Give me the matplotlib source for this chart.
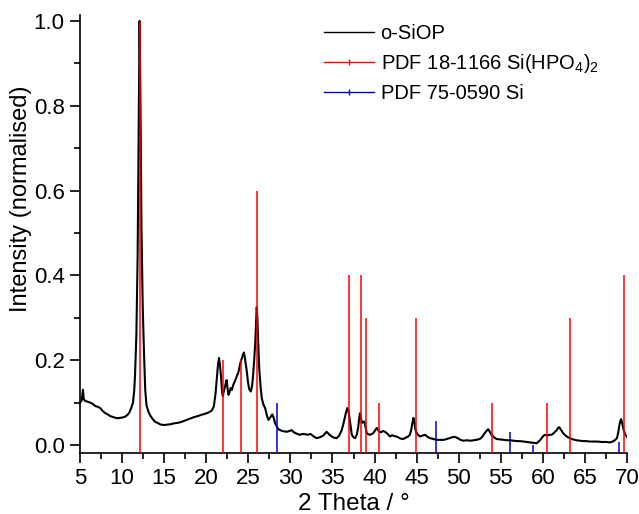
import matplotlib
matplotlib.use("Agg")
import matplotlib.pyplot as plt
from matplotlib.lines import Line2D
from matplotlib.ticker import MultipleLocator

plt.rcParams['font.family'] = ['Liberation Sans', 'DejaVu Sans']
plt.rcParams['mathtext.fontset'] = 'custom'
plt.rcParams['mathtext.rm'] = 'Liberation Sans'
plt.rcParams['mathtext.it'] = 'Liberation Sans:italic'

# ---- data ----
two_theta = [5.0, 5.2, 5.35, 5.45, 5.6, 5.9, 6.2, 6.5, 6.8, 7.1, 7.4, 7.7, 8.0, 8.3, 8.6, 8.9,
             9.2, 9.5, 9.8, 10.1, 10.4, 10.7, 10.9, 11.1, 11.3, 11.45, 11.55, 11.7, 11.85, 11.97,
             12.08, 12.18, 12.3, 12.45, 12.6, 12.75, 12.9, 13.1, 13.3, 13.6, 13.9, 14.2, 14.6,
             15.0, 15.4, 15.8, 16.2, 16.6, 17.0, 17.4, 17.8, 18.2, 18.6, 19.0, 19.4, 19.8, 20.2,
             20.6, 20.9, 21.1, 21.25, 21.4, 21.52, 21.65, 21.76, 21.88, 21.98, 22.1, 22.23, 22.35,
             22.43, 22.55, 22.65, 22.78, 22.9, 23.05, 23.22, 23.4, 23.54, 23.68, 23.8, 23.9, 24.0,
             24.12, 24.25, 24.38, 24.48, 24.6, 24.7, 24.8, 24.95, 25.1, 25.3, 25.45, 25.55, 25.7,
             25.82, 25.92, 26.0, 26.08, 26.18, 26.3, 26.45, 26.6, 26.8, 27.0, 27.2, 27.4, 27.55,
             27.7, 27.85, 28.0, 28.17, 28.35, 28.57, 28.8, 29.0, 29.3, 29.56, 29.9, 30.15, 30.4,
             30.7, 31.1, 31.5, 31.8, 32.1, 32.4, 32.7, 33.1, 33.5, 33.9, 34.3, 34.6, 34.9, 35.2,
             35.5, 35.8, 36.1, 36.3, 36.5, 36.65, 36.77, 36.9, 37.0, 37.15, 37.3, 37.5, 37.7, 37.9,
             38.07, 38.17, 38.27, 38.4, 38.5, 38.65, 38.8, 38.95, 39.07, 39.25, 39.46, 39.7, 39.86,
             40.05, 40.26, 40.4, 40.57, 40.8, 41.0, 41.24, 41.5, 41.84, 42.1, 42.3, 42.6, 42.9,
             43.1, 43.4, 43.7, 44.0, 44.2, 44.35, 44.5, 44.62, 44.72, 44.82, 44.93, 45.1, 45.4,
             45.7, 46.0, 46.3, 46.6, 47.0, 47.4, 47.8, 48.2, 48.6, 48.9, 49.2, 49.56, 49.9, 50.2,
             50.55, 51.0, 51.4, 51.8, 52.1, 52.5, 52.8, 53.1, 53.3, 53.5, 53.7, 53.9, 54.2, 54.5,
             54.9, 55.3, 55.8, 56.2, 56.5, 56.9, 57.3, 57.7, 58.1, 58.5, 58.9, 59.27, 59.5, 59.7,
             59.86, 60.05, 60.26, 60.5, 60.8, 61.05, 61.3, 61.5, 61.65, 61.8, 61.96, 62.1, 62.25,
             62.4, 62.7, 63.0, 63.2, 63.6, 64.0, 64.4, 64.8, 65.2, 65.6, 66.0, 66.5, 67.0, 67.5,
             67.98, 68.3, 68.6, 68.8, 68.95, 69.1, 69.2, 69.3, 69.45, 69.6, 69.8, 70.0]
intensity = [0.100, 0.105, 0.130, 0.108, 0.104, 0.102, 0.100, 0.097, 0.092, 0.090, 0.087, 0.080,
             0.075, 0.072, 0.068, 0.066, 0.064, 0.063, 0.064, 0.065, 0.067, 0.072, 0.078, 0.088,
             0.100, 0.130, 0.170, 0.260, 0.450, 0.750, 1.000, 0.820, 0.520, 0.330, 0.220, 0.130,
             0.094, 0.080, 0.071, 0.062, 0.055, 0.052, 0.048, 0.047, 0.048, 0.049, 0.051, 0.052,
             0.054, 0.057, 0.060, 0.063, 0.066, 0.068, 0.071, 0.073, 0.076, 0.080, 0.090, 0.120,
             0.155, 0.190, 0.205, 0.185, 0.160, 0.125, 0.115, 0.128, 0.137, 0.150, 0.153, 0.130,
             0.118, 0.125, 0.134, 0.130, 0.142, 0.150, 0.157, 0.165, 0.170, 0.178, 0.189, 0.198,
             0.205, 0.214, 0.218, 0.205, 0.190, 0.177, 0.150, 0.132, 0.126, 0.140, 0.160, 0.200,
             0.240, 0.290, 0.325, 0.300, 0.240, 0.180, 0.140, 0.110, 0.095, 0.087, 0.070, 0.059,
             0.063, 0.068, 0.072, 0.065, 0.052, 0.045, 0.037, 0.035, 0.033, 0.032, 0.031, 0.033,
             0.035, 0.030, 0.027, 0.024, 0.026, 0.025, 0.024, 0.026, 0.021, 0.016, 0.018, 0.022,
             0.031, 0.025, 0.020, 0.017, 0.016, 0.022, 0.035, 0.050, 0.067, 0.080, 0.087, 0.080,
             0.067, 0.045, 0.024, 0.018, 0.016, 0.025, 0.043, 0.062, 0.075, 0.062, 0.052, 0.054,
             0.055, 0.040, 0.028, 0.025, 0.024, 0.026, 0.028, 0.034, 0.040, 0.036, 0.031, 0.030,
             0.033, 0.031, 0.027, 0.020, 0.023, 0.021, 0.020, 0.017, 0.015, 0.014, 0.017, 0.020,
             0.024, 0.035, 0.052, 0.064, 0.055, 0.040, 0.031, 0.025, 0.020, 0.022, 0.024, 0.019,
             0.016, 0.014, 0.012, 0.012, 0.012, 0.014, 0.016, 0.018, 0.019, 0.016, 0.012, 0.010,
             0.011, 0.010, 0.011, 0.012, 0.014, 0.019, 0.028, 0.033, 0.037, 0.031, 0.024, 0.018,
             0.014, 0.013, 0.012, 0.011, 0.011, 0.010, 0.009, 0.009, 0.008, 0.007, 0.006, 0.005,
             0.004, 0.008, 0.012, 0.016, 0.021, 0.024, 0.022, 0.024, 0.024, 0.028, 0.032, 0.035,
             0.040, 0.042, 0.037, 0.033, 0.028, 0.022, 0.018, 0.016, 0.013, 0.011, 0.010, 0.009,
             0.009, 0.008, 0.008, 0.008, 0.007, 0.007, 0.006, 0.008, 0.012, 0.016, 0.028, 0.047,
             0.056, 0.061, 0.050, 0.035, 0.024, 0.019]

pdf_sihpo4_pos = [12.1, 21.95, 24.08, 26.08, 37.0, 38.45, 38.98, 40.48, 44.88, 53.92, 60.48, 63.19, 69.6]
pdf_sihpo4_int = [1.0, 0.2, 0.2, 0.6, 0.4, 0.4, 0.3, 0.1, 0.3, 0.1, 0.1, 0.3, 0.4]

pdf_si_pos = [28.44, 47.32, 56.13, 58.87, 69.1]
pdf_si_int = [0.1, 0.057, 0.031, 0.001, 0.008]

x_ticks = [5, 10, 15, 20, 25, 30, 35, 40, 45, 50, 55, 60, 65, 70]
y_ticks = [0.0, 0.2, 0.4, 0.6, 0.8, 1.0]

RED = '#ff0000'
BLUE = '#0000c8'

fig = plt.figure(figsize=(6.39, 5.14), dpi=100)
ax = fig.add_axes([80/639, 1-453/514, (627-80)/639, (453-15)/514])

ybot = -0.019
ax.set_xlim(5, 70)
ax.set_ylim(ybot, 1.014)

ax.plot(two_theta, intensity, color='black', lw=1.5, zorder=2)
ax.vlines(pdf_sihpo4_pos, ybot, pdf_sihpo4_int, colors=RED, lw=1.1, zorder=3)
ax.vlines(pdf_si_pos, ybot, pdf_si_int, colors=BLUE, lw=1.1, zorder=3)

for s in ['top', 'right']:
    ax.spines[s].set_visible(False)
for s in ['left', 'bottom']:
    ax.spines[s].set_linewidth(1.2)

ax.set_xticks(x_ticks)
ax.set_yticks(y_ticks)
ax.set_yticklabels([f"{v:.1f}" for v in y_ticks])
ax.xaxis.set_minor_locator(MultipleLocator(2.5))
ax.yaxis.set_minor_locator(MultipleLocator(0.1))
ax.tick_params(which='major', direction='out', length=7, width=1.2, labelsize=16, pad=4)
ax.tick_params(which='minor', direction='out', length=4, width=1.2)

ax.set_xlabel('2 Theta / °', fontsize=17.5, labelpad=3)
ax.set_ylabel('Intensity (normalised)', fontsize=17)
ax.yaxis.set_label_coords(-0.088, 0.58)

handles = [Line2D([], [], color='black', lw=1.0),
           Line2D([], [], color=RED, lw=1.0, marker='|', markersize=4, markevery=[1]),
           Line2D([], [], color=BLUE, lw=1.0, marker='|', markersize=4, markevery=[1])]
labels = ['o-SiOP', 'PDF 18-1166 Si(HPO$_4$)$_2$', 'PDF 75-0590 Si']
ax.legend(handles, labels, loc='upper left', bbox_to_anchor=(306/639, 1-6/514),
          bbox_transform=fig.transFigure, frameon=False, fontsize=14.5,
          handlelength=2.5, handletextpad=0.3, labelspacing=0.45)

fig.savefig('out.png', dpi=100)
